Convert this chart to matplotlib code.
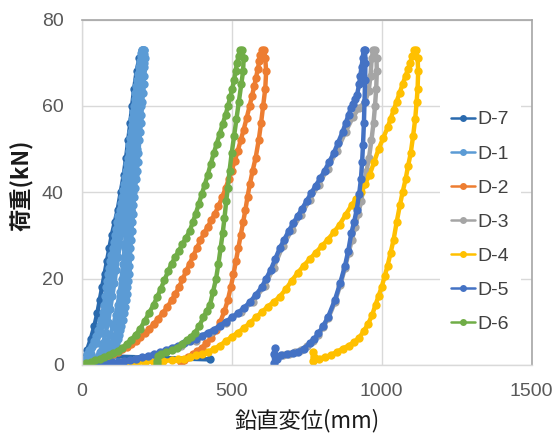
import numpy as np
import matplotlib
matplotlib.use("Agg")
from matplotlib import pyplot as plt

# load-displacement loops (displacement mm, load kN), loading then unloading
d7_pts = [
    (0, 0), (8, 1.5), (18, 3.5), (30, 6), (42, 9), (52, 12), (60, 15), (68, 18),
    (76, 21), (84, 24), (92, 27), (100, 30), (110, 33), (120, 36), (130, 40),
    (140, 44), (148, 48), (155, 52), (162, 56), (168, 60), (175, 64), (183, 68),
    (192, 71), (200, 73), (204, 72), (200, 68), (195, 63), (188, 57), (180, 50),
    (172, 43), (165, 36), (158, 29), (150, 22), (140, 16), (128, 11), (115, 7),
    (100, 4), (85, 2), (427, 1.3),
]
d1_pts = [
    # first loading
    (0, 0), (5, 0.8), (10, 1.5), (18, 2.5), (25, 3.5), (33, 4.5), (40, 5.5),
    (48, 6.7), (55, 8), (60, 9.2), (65, 10.5), (70, 12.2), (75, 14), (79, 16),
    (82, 18), (85, 19.5), (88, 21), (92, 22.5), (95, 24), (99, 25.5), (103, 27),
    (107, 28.5), (110, 30), (114, 31.5), (118, 33), (122, 34.5), (126, 36),
    (130, 37.5), (134, 39), (138, 40.5), (141, 42), (144, 43.5), (147, 45),
    (150, 46.5), (153, 48), (156, 49.5), (158, 51), (161, 52.5), (163, 54),
    (166, 55.5), (168, 57), (171, 58.5), (173, 60), (176, 61.5), (178, 63),
    (181, 64.5), (184, 66), (187, 67.5), (190, 69), (193, 70.3), (196, 71.5),
    (199, 72.3), (202, 73),
    # first unloading
    (208, 73), (210, 71), (209, 69), (208, 67), (206, 65), (204, 63), (202, 61),
    (199, 58), (197, 56), (195, 54), (192, 52), (189, 49), (187, 47), (184, 45),
    (181, 43), (178, 41), (175, 39), (172, 37), (170, 35), (168, 33), (166, 31),
    (164, 29), (162, 27), (161, 25), (159, 23), (157, 21), (155, 19.5),
    (152, 18), (150, 16.5), (147, 15), (144, 13.5), (140, 12), (136, 10.5),
    (132, 9), (128, 8), (124, 7), (120, 6), (115, 5), (110, 4), (105, 3),
    (100, 2.2), (95, 1.5), (90, 1), (85, 0.5),
    # second cycle
    (57, 0.5), (70, 2.5), (82, 4.5), (95, 7), (105, 9), (113, 11.5), (120, 14),
    (127, 17), (133, 20), (138, 23.5), (143, 27), (148, 31), (153, 34.5),
    (158, 37.5), (163, 40.5), (168, 44), (173, 47.5), (178, 51), (183, 55),
    (187, 58), (191, 61), (195, 64), (199, 67), (203, 70), (206, 73),
    (204, 72.5), (201, 70), (196, 67), (191, 64), (186, 61), (181, 58),
    (176, 55), (171, 52), (165, 48.5), (158, 45), (152, 41.5), (146, 38),
    (140, 34.5), (134, 31), (128, 28), (121, 25), (115, 22), (109, 19),
    (102, 16), (95, 13), (88, 10), (80, 7.5), (71, 5), (60, 3), (45, 1.5),
    (28, 0.3),
    # third cycle
    (14, 0.5), (30, 2.5), (50, 5), (63, 7.5), (75, 10), (83, 13), (90, 16),
    (98, 20), (105, 23), (112, 26.5), (120, 30), (128, 33.5), (136, 37),
    (143, 40), (150, 44), (156, 47), (162, 50), (167, 54), (172, 57.5),
    (178, 60), (184, 64), (190, 67.5), (195, 70), (203, 73),
    (207, 72), (206, 70), (203, 67), (199, 64), (196, 60), (192, 57),
    (189, 54), (185, 50), (181, 47), (177, 44), (173, 41), (170, 40),
    (166, 37), (162, 34), (158, 30), (154, 27), (150, 24), (145, 20),
    (139, 17), (132, 14), (125, 10), (117, 8), (109, 6.5), (102, 5), (92, 3),
    (82, 1.5), (71, 0.3),
]
d2_pts = [
    (0, 0), (15, 0.2), (30, 0.4), (45, 0.6), (60, 0.8), (75, 1.3), (90, 1.9),
    (105, 2.5), (120, 3), (135, 3.6), (150, 4.2), (165, 4.9), (180, 5.6),
    (195, 6.4), (210, 7.3), (225, 8.3), (240, 9.5), (255, 10.7), (270, 12),
    (285, 13.4), (300, 15), (312, 16.4), (324, 18), (336, 19.8), (348, 21.7),
    (360, 23.5), (372, 25.3), (384, 27.1), (396, 28.9), (408, 30.5), (420, 32),
    (432, 33.5), (444, 35), (456, 36.8), (468, 38.8), (480, 41), (490, 43),
    (500, 45), (510, 47.2), (520, 49.5), (530, 52), (540, 54.5), (550, 57.2),
    (560, 60), (568, 62.4), (575, 64.5), (581, 66.5), (587, 68.5), (592, 70.3),
    (596, 71.8), (600, 73),
    (608, 73), (612, 71), (615, 68), (612, 64), (605, 60), (598, 56), (590, 52),
    (580, 48), (570, 45), (561, 42), (553, 39), (546, 36), (538, 33), (530, 30),
    (522, 27), (514, 24), (506, 21), (497, 18), (487, 15), (476, 12.5),
    (462, 10), (448, 8), (432, 6.3), (416, 5), (400, 4), (385, 3.2), (370, 2.5),
    (355, 1.8), (340, 1.2), (330, 0.7),
]
d3_pts = [
    (30, 0), (80, 0.4), (130, 0.8), (180, 1.3), (230, 2), (280, 3.2),
    (330, 4.5), (380, 5.6), (430, 7.6), (480, 9.8), (530, 12.2), (570, 14.7),
    (610, 18.3), (640, 22.5), (670, 27.5), (700, 31.2), (730, 34.7),
    (760, 38.2), (790, 41.7), (820, 45.5), (850, 49.5), (880, 54), (905, 57.5),
    (925, 59.5), (945, 61), (957, 63.5), (963, 67), (967, 71), (972, 73),
    (978, 73), (983, 71), (984, 68), (982, 64), (978, 60), (973, 56), (966, 52),
    (958, 48), (950, 45), (941, 42), (932, 38), (922, 35), (912, 32), (901, 29),
    (890, 26), (878, 22.5), (862, 18.5), (844, 14.5), (822, 10.8), (805, 8.7),
    (789, 7), (770, 5.5), (750, 4.3), (730, 3.4), (710, 2.9), (690, 2.6),
    (670, 2.3),
]
d4_pts = [
    (60, 0), (90, 0.1), (120, 0.3), (150, 0.4), (180, 0.5), (210, 0.6),
    (240, 0.8), (270, 0.9), (300, 1.1), (320, 1.3), (340, 1.5), (360, 1.8),
    (380, 2.2), (400, 2.6), (420, 3), (440, 3.7), (460, 4.5), (480, 5.5),
    (500, 6.5), (520, 7.5), (540, 8.5), (560, 9.7), (580, 11), (600, 12.2),
    (620, 13.5), (640, 14.6), (660, 15.8), (680, 17.5), (700, 19.5),
    (720, 21.3), (740, 23), (760, 24.5), (780, 26), (800, 27.5), (820, 29),
    (840, 30.7), (860, 32.5), (880, 34.8), (900, 37), (915, 38.5), (930, 40),
    (945, 42), (960, 44), (975, 47), (990, 50), (1005, 52.5), (1020, 55),
    (1030, 57), (1040, 59), (1050, 61), (1060, 63), (1070, 65), (1080, 67),
    (1088, 68.5), (1095, 70), (1102, 71.5), (1108, 73),
    (1115, 73), (1120, 71), (1122, 68), (1120, 64), (1117, 61), (1112, 57),
    (1105, 53), (1097, 49), (1088, 46), (1080, 43), (1070, 40), (1061, 37),
    (1050, 33), (1040, 29), (1030, 26), (1020, 23), (1010, 20.5), (1000, 18),
    (990, 16), (980, 14), (968, 11.5), (955, 9.5), (940, 7.8), (925, 6.3),
    (908, 5.3), (890, 4.5), (870, 3.8), (850, 3), (830, 2.3), (810, 1.8),
    (790, 1.5), (775, 1.8), (770, 3), (772, 1),
]
d5_pts = [
    (20, 0), (40, 0.2), (60, 0.3), (80, 0.4), (100, 0.6), (120, 0.8), (140, 1),
    (160, 1.2), (180, 1.5), (200, 1.8), (220, 2.1), (240, 2.5), (260, 3),
    (280, 3.5), (300, 4), (320, 4.5), (340, 5), (360, 5.5), (380, 6.1),
    (400, 6.8), (420, 7.5), (440, 8.2), (460, 9.1), (480, 10), (500, 11),
    (520, 12), (540, 13.2), (560, 14.5), (580, 16.2), (600, 18), (615, 20),
    (630, 22), (645, 24.5), (660, 27), (675, 29), (690, 31), (705, 32.8),
    (720, 34.5), (735, 36.2), (750, 38), (765, 39.8), (780, 41.5), (795, 43.2),
    (810, 45), (825, 47), (840, 49), (855, 51.5), (870, 54), (880, 56),
    (890, 58), (898, 59.5), (905, 60.5), (912, 61.5), (918, 62.5), (925, 65),
    (929, 67), (933, 69), (937, 71), (940, 73),
    (945, 73), (946, 70), (945, 66), (943, 61), (941, 56), (938, 51), (935, 47),
    (931, 43), (925, 39.5), (917, 36), (908, 33), (899, 30.5), (889, 26.5),
    (878, 23), (862, 19), (844, 15), (822, 11.2), (805, 9), (789, 7.3),
    (775, 6), (761, 5), (740, 3.8), (720, 3), (705, 2.7), (685, 2.5),
    (665, 2.2), (650, 1.5), (642, 0.5), (640, 2.5), (643, 4),
]
d6_pts = [
    (0, 0), (15, 0.4), (30, 0.8), (45, 1.1), (60, 1.5), (75, 1.9), (90, 2.3),
    (105, 2.7), (120, 3.3), (135, 4), (150, 4.9), (165, 5.9), (180, 7),
    (195, 8.4), (210, 10.2), (225, 12.1), (240, 14), (252, 15.8), (264, 17.7),
    (276, 19.7), (288, 21.7), (300, 23.5), (312, 25), (324, 26.5), (336, 28),
    (348, 29.5), (360, 31), (370, 33), (380, 35), (390, 37.2), (400, 39.5),
    (410, 41.7), (420, 44), (430, 46.5), (440, 49), (450, 51.2), (460, 53.5),
    (470, 55.8), (480, 58), (488, 60), (495, 62), (502, 64), (508, 66),
    (513, 68), (518, 70), (523, 71.5), (528, 73),
    (535, 73), (540, 71), (538, 68), (532, 65), (524, 61), (516, 57), (508, 53),
    (500, 49), (493, 45), (487, 41), (482, 38), (476, 34), (470, 30.5),
    (463, 27), (456, 23.5), (448, 20), (438, 17), (428, 14), (417, 12.5),
    (405, 11), (392, 9), (378, 7.5), (364, 6.5), (350, 5.8), (335, 4.8),
    (318, 4), (300, 3.4), (282, 2.9), (265, 2.6), (255, 2), (252, 1), (250, 0.3),
]

labels = ["D-7", "D-1", "D-2", "D-3", "D-4", "D-5", "D-6"]
series = [d7_pts, d1_pts, d2_pts, d3_pts, d4_pts, d5_pts, d6_pts]
colors = ["#2A6AAE", "#5B9BD5", "#ED7D31", "#A5A5A5", "#FFC000", "#4472C4", "#70AD47"]

x_ticks = [0, 500, 1000, 1500]
y_ticks = [0, 20, 40, 60, 80]

plt.rcParams["font.family"] = ["Liberation Sans", "DejaVu Sans"]

fig = plt.figure(figsize=(5.56, 4.34), dpi=100)
ax = fig.add_axes([0.147, 0.159, 0.809, 0.796])

for pts, lab, col in zip(series, labels, colors):
    xy = np.array(pts, dtype=float)
    ax.plot(xy[:, 0], xy[:, 1], color=col, lw=3.2, marker="o",
            markersize=6, markeredgewidth=0, label=lab,
            solid_joinstyle="round", solid_capstyle="round")

ax.set_xlim(0, 1500)
ax.set_ylim(0, 80)
ax.set_xticks(x_ticks)
ax.set_yticks(y_ticks)
ax.tick_params(length=0, labelsize=14, labelcolor="#595959")
ax.tick_params(axis="y", pad=13)
ax.tick_params(axis="x", pad=13)
ax.grid(True, color="#D9D9D9", lw=1)
ax.set_axisbelow(True)

for side in ["left", "bottom"]:
    ax.spines[side].set_color("#D9D9D9")
    ax.spines[side].set_linewidth(1)
for side in ["top", "right"]:
    ax.spines[side].set_color("#A6A6A6")
    ax.spines[side].set_linewidth(1.2)

cjk = ["Noto Sans CJK JP", "DejaVu Sans"]
ax.set_xlabel("鉛直変位(mm)", family=cjk, fontsize=16, color="#1A1A1A")
ax.set_ylabel("荷重(kN)", family=cjk, fontsize=16, color="#1A1A1A",
              fontweight="bold")
ax.xaxis.set_label_coords(0.5, -0.161)
ax.xaxis.label.set_va("center")
ax.yaxis.set_label_coords(-0.132, 0.52)
ax.yaxis.label.set_va("center")

leg = ax.legend(loc="center left", bbox_to_anchor=(0.791, 0.4885),
                bbox_transform=fig.transFigure, frameon=True, fancybox=False,
                edgecolor="none", facecolor="white", framealpha=1,
                fontsize=14, handlelength=1.2, handletextpad=0.15,
                labelspacing=0.85, borderpad=0.6, borderaxespad=0,
                numpoints=1)
for t in leg.get_texts():
    t.set_color("#404040")
for h in leg.get_lines():
    h.set_linewidth(1.8)
    h.set_markersize(5)

fig.savefig("out.png", dpi=100)
